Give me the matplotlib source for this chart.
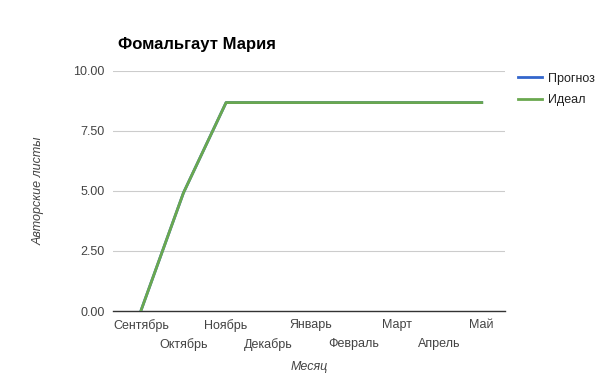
import matplotlib.pyplot as plt

months = ['Сентябрь', 'Октябрь', 'Ноябрь', 'Декабрь', 'Январь',
          'Февраль', 'Март', 'Апрель', 'Май']
forecast = [0, 4.92, 8.68, 8.68, 8.68, 8.68, 8.68, 8.68, 8.68]
ideal = [0, 4.92, 8.68, 8.68, 8.68, 8.68, 8.68, 8.68, 8.68]
y_ticks = [0, 2.5, 5, 7.5, 10]

plt.rcParams['font.family'] = ['Liberation Sans', 'DejaVu Sans']

fig = plt.figure(figsize=(6.05, 3.77), dpi=100)
ax = fig.add_axes([0.187, 0.175, 0.648, 0.637])

x = list(range(len(months)))
ax.plot(x, forecast, color='#3366cc', lw=2, label='Прогноз')
ax.plot(x, ideal, color='#6aa84f', lw=2, label='Идеал')

ax.set_ylim(0, 10)
ax.set_xlim(-0.65, 8.55)
ax.set_yticks(y_ticks)
ax.set_yticklabels([f'{v:.2f}' for v in y_ticks], fontsize=9, color='#444444')

# alternate month labels over two rows
ax.set_xticks(x[::2])
ax.set_xticklabels(months[::2], fontsize=9, color='#444444')
ax.set_xticks(x[1::2], minor=True)
ax.set_xticklabels(months[1::2], minor=True, fontsize=9, color='#444444')
ax.tick_params(axis='y', length=0, pad=6)
ax.tick_params(axis='x', which='major', length=0, pad=6)
ax.tick_params(axis='x', which='minor', length=0, pad=19.5)

ax.grid(axis='y', color='#cccccc', lw=0.8)
ax.set_axisbelow(True)
for s in ['top', 'right', 'left']:
    ax.spines[s].set_visible(False)
ax.spines['bottom'].set_color('#333333')
ax.spines['bottom'].set_linewidth(1)
ax.spines['bottom'].set_zorder(1)

ax.set_xlabel('Месяц', fontsize=9, style='italic', color='#444444')
ax.xaxis.set_label_coords(0.5, -(367 - 311) / 240, transform=ax.transAxes)
ax.xaxis.label.set_va('center')
ax.set_ylabel('Авторские листы', fontsize=9, style='italic', color='#444444')
ax.yaxis.set_label_coords(-(113 - 38) / 392, 0.5)
ax.yaxis.label.set_va('center')

fig.text(118 / 605, 1 - 45 / 377, 'Фомальгаут Мария', fontsize=12, weight='bold',
         va='center', ha='left', color='#000000')

leg = ax.legend(loc='upper left', bbox_to_anchor=(1.005, 1.04), frameon=False,
                fontsize=9, handlelength=1.85, labelspacing=0.75, handletextpad=0.55)
for t in leg.get_texts():
    t.set_color('#222222')

plt.savefig('out.png', dpi=100)
